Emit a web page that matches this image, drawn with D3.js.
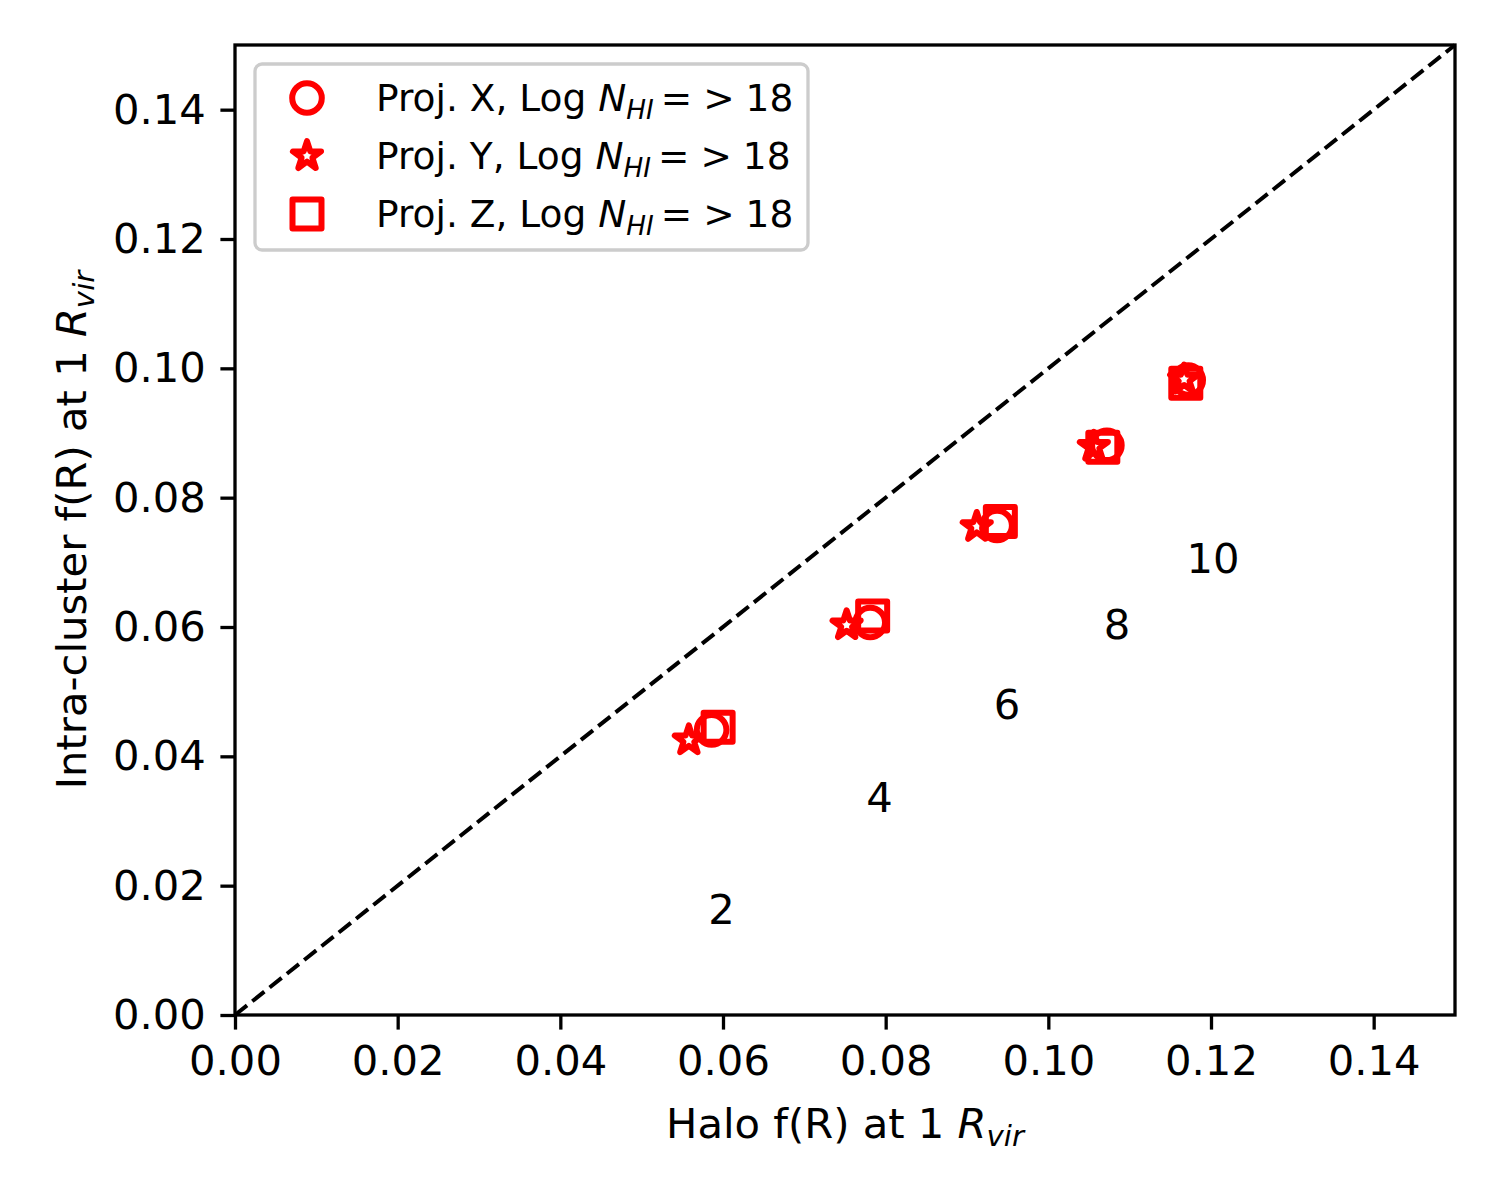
<!DOCTYPE html>
<html>
<head>
<meta charset="utf-8">
<script src="https://cdn.jsdelivr.net/npm/d3@7"></script>
<style>
    body { margin: 0; background: #fff; }
    svg text { font-family: "DejaVu Sans", sans-serif; fill: #000; }
</style>
</head>
<body>
<div id="chart"></div>
<script>
// values
const projXHalo = [0.0586, 0.0781, 0.0937, 0.1072, 0.1172];
const projXIcm  = [0.0441, 0.0607, 0.0757, 0.0881, 0.0982];
const projYHalo = [0.0558, 0.0752, 0.0912, 0.1056, 0.1167];
const projYIcm  = [0.0425, 0.0603, 0.0755, 0.0879, 0.0983];
const projZHalo = [0.0594, 0.0784, 0.0941, 0.1067, 0.1169];
const projZIcm  = [0.0445, 0.0617, 0.0763, 0.0878, 0.0977];

const pointLabels = ["2", "4", "6", "8", "10"];
const labelX = [0.0582, 0.0776, 0.0933, 0.1068, 0.1170];
const labelY = [0.0141, 0.0314, 0.0458, 0.0582, 0.0683];

const oneToOne = [0, 0.15];
const tickValues = [0, 0.02, 0.04, 0.06, 0.08, 0.10, 0.12, 0.14];
const legendNames = ["Proj. X", "Proj. Y", "Proj. Z"];

/* layout */
const width = 1500, height = 1200;
const margin = { top: 45, right: 45, bottom: 185, left: 235 };
const plotW = width - margin.left - margin.right;
const plotH = height - margin.top - margin.bottom;
const fontSize = 41.7;
const tickLen = 14.6;
const red = "#ff0000";
const markerStroke = 6;

const svg = d3.select("#chart")
    .append("svg")
    .attr("width", width)
    .attr("height", height);

const g = svg.append("g")
    .attr("transform", "translate(" + margin.left + "," + margin.top + ")");

const x = d3.scaleLinear().domain([0, 0.15]).range([0, plotW]);
const y = d3.scaleLinear().domain([0, 0.15]).range([plotH, 0]);

/* marker shapes, size = radius like matplotlib markers */
const circleType = {
    draw(ctx, r) { ctx.moveTo(r, 0); ctx.arc(0, 0, r, 0, 2 * Math.PI); ctx.closePath(); }
};
const squareType = {
    draw(ctx, r) { ctx.rect(-r, -r, 2 * r, 2 * r); ctx.closePath(); }
};
const starType = {
    draw(ctx, r) {
        for (let k = 0; k < 10; k++) {
            const a = Math.PI / 5 * k - Math.PI / 2;
            const rr = k % 2 === 0 ? r : r * 0.381966;
            if (k === 0) ctx.moveTo(rr * Math.cos(a), rr * Math.sin(a));
            else ctx.lineTo(rr * Math.cos(a), rr * Math.sin(a));
        }
        ctx.closePath();
    }
};

const series = [
    { name: legendNames[0], xs: projXHalo, ys: projXIcm, type: circleType, r: 14.8 },
    { name: legendNames[1], xs: projYHalo, ys: projYIcm, type: starType, r: 14.8 },
    { name: legendNames[2], xs: projZHalo, ys: projZIcm, type: squareType, r: 14.5 }
];

function markerPath(s) {
    return d3.symbol().type(s.type).size(s.r)();
}

// 1:1 line
g.append("path")
    .datum(oneToOne)
    .attr("fill", "none")
    .attr("stroke", "#000")
    .attr("stroke-width", 4)
    .attr("stroke-dasharray", "15.4,6.7")
    .attr("d", d3.line().x(d => x(d)).y(d => y(d)));

// points
series.forEach(s => {
    g.selectAll(null)
        .data(s.xs.map((v, i) => [v, s.ys[i]]))
        .enter()
        .append("path")
        .attr("transform", d => "translate(" + x(d[0]) + "," + y(d[1]) + ")")
        .attr("d", markerPath(s))
        .attr("fill", "none")
        .attr("stroke", red)
        .attr("stroke-width", markerStroke)
        .attr("stroke-linejoin", "round");
});

// number labels
g.selectAll(null)
    .data(pointLabels)
    .enter()
    .append("text")
    .attr("x", (d, i) => x(labelX[i]))
    .attr("y", (d, i) => y(labelY[i]))
    .attr("font-size", fontSize)
    .text(d => d);

/* axes */
const fmt = d3.format(".2f");
const xAxis = g.append("g")
    .attr("transform", "translate(0," + plotH + ")")
    .call(d3.axisBottom(x).tickValues(tickValues).tickFormat(fmt).tickSizeOuter(0).tickSize(tickLen).tickPadding(14.6));
const yAxis = g.append("g")
    .call(d3.axisLeft(y).tickValues(tickValues).tickFormat(fmt).tickSizeOuter(0).tickSize(tickLen).tickPadding(14.6));

[xAxis, yAxis].forEach(a => {
    a.select(".domain").remove();
    a.selectAll(".tick line").attr("stroke", "#000").attr("stroke-width", 3.3);
    a.selectAll(".tick text")
        .attr("font-size", fontSize)
        .attr("font-family", "DejaVu Sans")
        .attr("fill", "#000");
});
xAxis.selectAll(".tick text").attr("dy", null).attr("y", tickLen + 14.6 + 30.4);

// frame
g.append("rect")
    .attr("width", plotW)
    .attr("height", plotH)
    .attr("fill", "none")
    .attr("stroke", "#000")
    .attr("stroke-width", 3.3);

/* axis labels */
function rvirLabel(sel, prefix) {
    sel.append("tspan").text(prefix);
    sel.append("tspan").attr("font-style", "italic").text("R");
    sel.append("tspan").attr("font-style", "italic").attr("font-size", fontSize * 0.7)
        .attr("dy", fontSize * 0.2).text("vir");
}

const xLabel = svg.append("text")
    .attr("x", margin.left + plotW / 2)
    .attr("y", 1138)
    .attr("text-anchor", "middle")
    .attr("font-size", fontSize);
rvirLabel(xLabel, "Halo f(R) at 1 ");

const yLabel = svg.append("text")
    .attr("transform", "translate(86," + (margin.top + plotH / 2) + ") rotate(-90)")
    .attr("text-anchor", "middle")
    .attr("font-size", fontSize);
rvirLabel(yLabel, "Intra-cluster f(R) at 1 ");

/* legend */
const legFont = 37.5;
const legend = svg.append("g");
legend.append("rect")
    .attr("x", 255)
    .attr("y", 64)
    .attr("width", 553)
    .attr("height", 186)
    .attr("rx", 7)
    .attr("fill", "#fff")
    .attr("fill-opacity", 0.8)
    .attr("stroke", "#cccccc")
    .attr("stroke-width", 3.3);

const rowY = d3.scalePoint().domain(legendNames).range([98, 214]);

series.forEach(s => {
    const cy = rowY(s.name);
    legend.append("path")
        .attr("transform", "translate(307," + cy + ")")
        .attr("d", markerPath(s))
        .attr("fill", "none")
        .attr("stroke", red)
        .attr("stroke-width", markerStroke)
        .attr("stroke-linejoin", "round");
    const t = legend.append("text")
        .attr("x", 376)
        .attr("y", cy + 13)
        .attr("font-size", legFont);
    t.append("tspan").text(s.name + ", Log ");
    t.append("tspan").attr("font-style", "italic").text("N");
    t.append("tspan").attr("font-style", "italic").attr("font-size", legFont * 0.7)
        .attr("dy", legFont * 0.2).text("HI");
    t.append("tspan").attr("dy", -legFont * 0.2).attr("dx", 7).text("=");
    t.append("tspan").attr("dx", 11).text(">");
    t.append("tspan").attr("dx", 11).text("18");
});
</script>
</body>
</html>
